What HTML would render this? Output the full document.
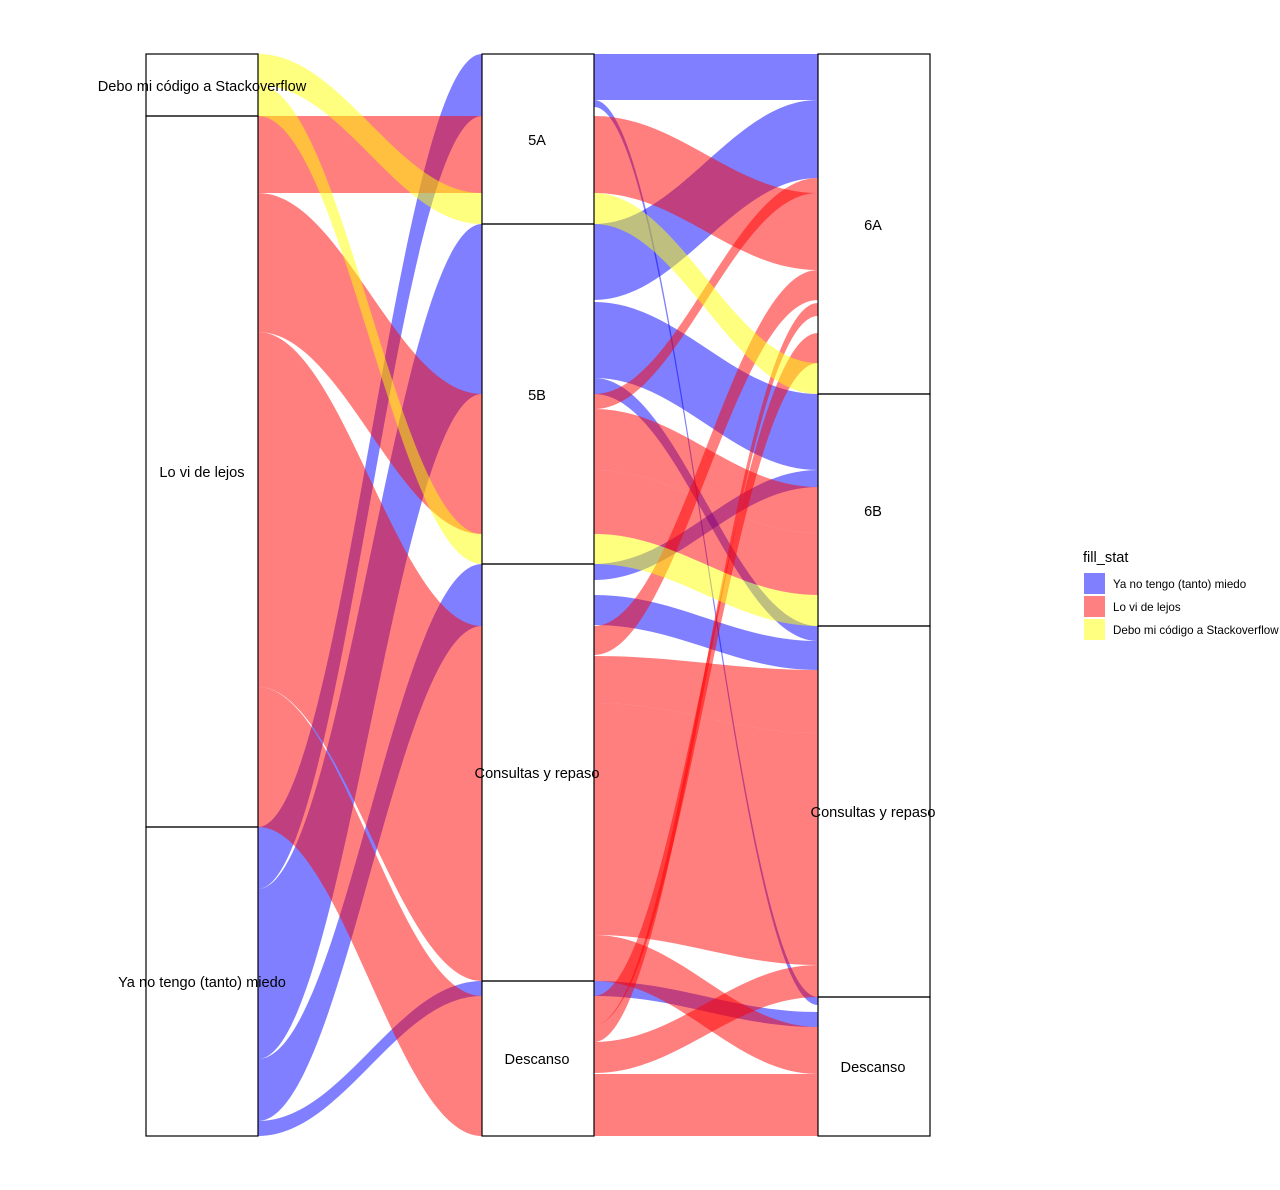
<!DOCTYPE html>
<html><head><meta charset="utf-8">
<style>
html,body{margin:0;padding:0;background:#fff;}
svg{display:block;font-family:"Liberation Sans",sans-serif;}
</style></head>
<body>
<svg id="s" width="1280" height="1190" viewBox="0 0 1280 1190" xmlns="http://www.w3.org/2000/svg">
<g id="flows"></g>
<g fill="none" stroke="#000" stroke-width="1.2">
<rect x="146" y="54" width="112" height="62"/>
<rect x="146" y="116" width="112" height="711"/>
<rect x="146" y="827" width="112" height="309"/>
<rect x="482" y="54" width="112" height="170"/>
<rect x="482" y="224" width="112" height="340"/>
<rect x="482" y="564" width="112" height="417"/>
<rect x="482" y="981" width="112" height="155"/>
<rect x="818" y="54" width="112" height="340"/>
<rect x="818" y="394" width="112" height="232"/>
<rect x="818" y="626" width="112" height="371"/>
<rect x="818" y="997" width="112" height="139"/>
</g>
<g font-size="14.6" fill="#000" text-anchor="middle">
<text x="202" y="91">Debo mi código a Stackoverflow</text>
<text x="202" y="477">Lo vi de lejos</text>
<text x="202" y="987">Ya no tengo (tanto) miedo</text>
<text x="537" y="145">5A</text>
<text x="537" y="400">5B</text>
<text x="537" y="778">Consultas y repaso</text>
<text x="537" y="1064">Descanso</text>
<text x="873" y="230">6A</text>
<text x="873" y="516">6B</text>
<text x="873" y="817">Consultas y repaso</text>
<text x="873" y="1072">Descanso</text>
</g>
<text x="1083" y="562" font-size="14.6">fill_stat</text>
<rect x="1084" y="573" width="21" height="21" fill="#8080ff"/>
<rect x="1084" y="596" width="21" height="21" fill="#ff8080"/>
<rect x="1084" y="619" width="21" height="21" fill="#ffff80"/>
<g font-size="11.6">
<text x="1113" y="588">Ya no tengo (tanto) miedo</text>
<text x="1113" y="611">Lo vi de lejos</text>
<text x="1113" y="634">Debo mi código a Stackoverflow</text>
</g>
</svg>
<script>
var C={b:"#0000ff",r:"#ff0000",y:"#ffff00"};
var F1=[
["y",54,85,193,224],["y",85,116,534,564],
["r",116,193,116,193],["r",193,332,394,534],["r",332,687,626,981],["r",687,827,996,1136],
["b",827,889,54,116],["b",889,1059,224,394],["b",1059,1121,564,626],["b",1121,1136,981,996]];
var F2=[
["b",54,100,54,100],["b",224,300,100,178],["r",394,409,178,193],["r",116,193,193,270],
["r",626,655,270,300],["r",1025,1042,303,316],["r",996,1025,333,363],["y",193,224,363,394],
["b",302,378,394,470],["b",564,580,470,487],["r",409,470,487,533],["r",470,534,533,595],["y",534,564,595,626],
["b",378,394,626,641],["b",595,625,641,670],["r",656,703,670,733],["r",703,935,733,965],["r",1042,1073,965,997],
["b",100,107,997,1005],["b",981,996,1012,1027],["r",935,981,1027,1074],["r",1074,1136,1074,1136]];
var g=document.getElementById("flows"),h="";
function add(f,x0,x1){var w=x1-x0,a=x0+w*0.38,b=x1-w*0.38;
h+='<path fill="'+C[f[0]]+'" fill-opacity="0.5" d="M'+x0+','+f[1]+' C'+a+','+f[1]+' '+b+','+f[3]+' '+x1+','+f[3]+' L'+x1+','+f[4]+' C'+b+','+f[4]+' '+a+','+f[2]+' '+x0+','+f[2]+' Z"/>';}
["b","r","y"].forEach(function(c){
F1.forEach(function(f){if(f[0]==c)add(f,258,482);});
F2.forEach(function(f){if(f[0]==c)add(f,594,818);});
});
g.innerHTML=h;
</script>
</body></html>
